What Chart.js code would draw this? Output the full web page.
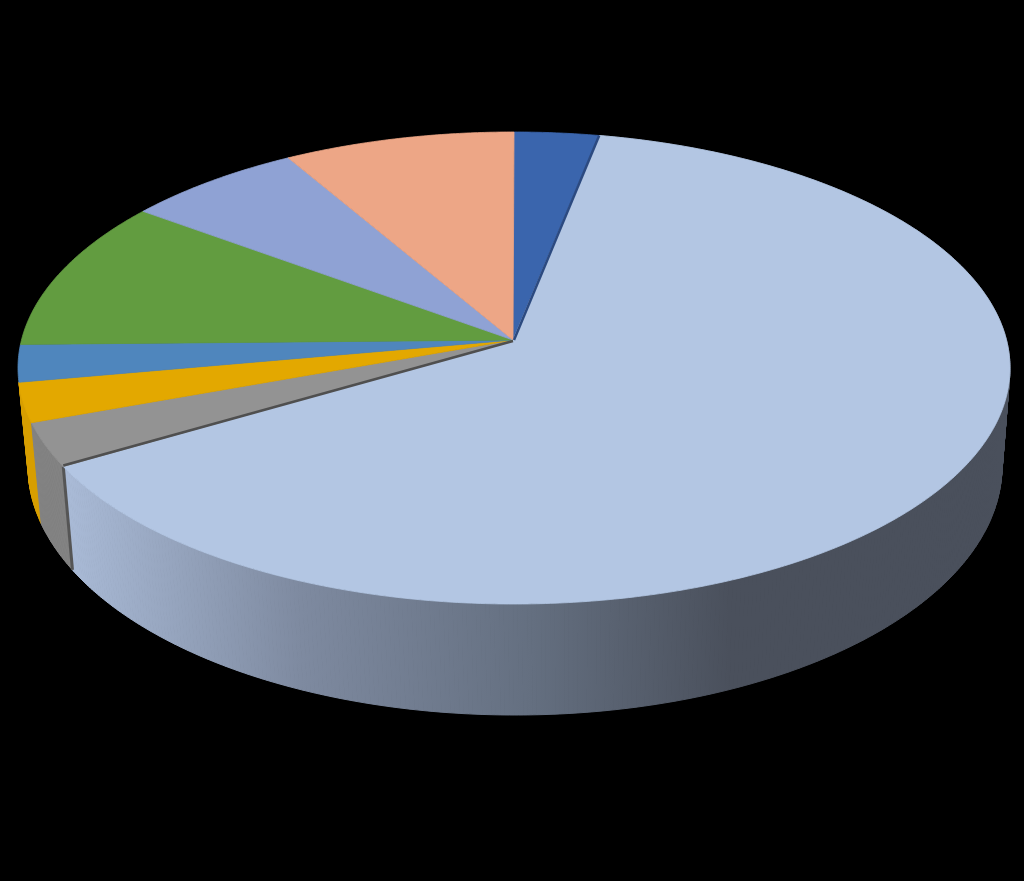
<!DOCTYPE html>
<html>
<head>
<meta charset="utf-8">
<title>3D pie</title>
<script src="https://cdn.jsdelivr.net/npm/chart.js@4"></script>
<style>
  html, body { margin: 0; padding: 0; background: #000; }
  canvas { display: block; }
</style>
</head>
<body>
<canvas id="pie" width="1024" height="881"></canvas>
<script>
// values (percent of the pie)
let categories = ["A", "B", "C", "D", "E", "F", "G", "H"];
let values = [3.1, 63.5, 3.0, 2.7, 2.55, 10.4, 6.5, 8.45];

let topColors = ["#3a65ad", "#b3c6e3", "#939393", "#e3a800", "#4f86bd", "#629c40", "#8fa2d4", "#eda686"];
let wallColors = [null, "gradient", "#838383", "#d89f00", null, null, null, null];

// perspective of the pie: top face and the smaller bottom rim
let topRim = { cx: 514, cy: 368, a: 496, b: 236 };
let bottomRim = { cx: 515, cy: 466, a: 487, b: 249 };
let apex = { x: 513, y: 340 };
let tilt = (apex.y - topRim.cy) / topRim.b;

function project(rim, angle) {
  // chart.js angle starts at 3 o'clock and goes clockwise
  let u = Math.cos(angle), v = Math.sin(angle);
  let d = 1 + tilt * v;
  return {
    x: rim.cx + rim.a * u * Math.sqrt(1 - tilt * tilt) / d,
    y: rim.cy + rim.b * (v + tilt) / d
  };
}

function rimPath(ctx, rim, from, to) {
  let n = Math.max(2, Math.ceil(Math.abs(to - from) * 120));
  for (let i = 0; i <= n; i++) {
    let p = project(rim, from + (to - from) * i / n);
    ctx.lineTo(p.x, p.y);
  }
}

// the wall goes in small strips so the silhouette keeps its straight side
function drawWall(ctx, from, to, fill) {
  let n = Math.ceil((to - from) * 120);
  ctx.fillStyle = fill;
  ctx.strokeStyle = fill;
  ctx.lineWidth = 1;
  for (let i = 0; i < n; i++) {
    let a0 = from + (to - from) * i / n;
    let a1 = from + (to - from) * (i + 1) / n;
    let p0 = project(topRim, a0), p1 = project(topRim, a1);
    let q0 = project(bottomRim, a0), q1 = project(bottomRim, a1);
    ctx.beginPath();
    ctx.moveTo(p0.x, p0.y);
    ctx.lineTo(p1.x, p1.y);
    ctx.lineTo(q1.x, q1.y);
    ctx.lineTo(q0.x, q0.y);
    ctx.closePath();
    ctx.fill();
    ctx.stroke();
  }
}

let pie3d = {
  id: "pie3d",
  beforeDatasetsDraw(chart) {
    let ctx = chart.ctx;
    let arcs = chart.getDatasetMeta(0).data;
    ctx.save();

    // side wall, left slices first
    [3, 2, 1].forEach(i => {
      let arc = arcs[i];
      let fill = wallColors[i];
      if (fill === "gradient") {
        fill = ctx.createLinearGradient(70, 0, 730, 0);
        fill.addColorStop(0, "#a9bad6");
        fill.addColorStop(0.35, "#7e8aa0");
        fill.addColorStop(0.7, "#646f80");
        fill.addColorStop(1, "#4a505c");
      }
      drawWall(ctx, arc.startAngle, arc.endAngle, fill);
    });

    // dark edge where the large slice wall starts
    let big = arcs[1];
    let a = project(topRim, big.endAngle), b = project(bottomRim, big.endAngle);
    ctx.beginPath();
    ctx.moveTo(a.x, a.y);
    ctx.lineTo(b.x, b.y);
    ctx.strokeStyle = "#555555";
    ctx.lineWidth = 3;
    ctx.stroke();

    // top face
    arcs.forEach(arc => {
      ctx.beginPath();
      ctx.moveTo(apex.x, apex.y);
      rimPath(ctx, topRim, arc.startAngle, arc.endAngle);
      ctx.closePath();
      ctx.fillStyle = arc.options.backgroundColor;
      ctx.strokeStyle = arc.options.backgroundColor;
      ctx.lineWidth = 0.8;
      ctx.fill();
      ctx.stroke();
    });

    // thin dark faces along the big slice
    let e = project(topRim, big.endAngle);
    ctx.beginPath();
    ctx.moveTo(apex.x, apex.y + 1);
    ctx.lineTo(e.x, e.y - 1);
    ctx.strokeStyle = "#4f4f4f";
    ctx.lineWidth = 2.5;
    ctx.stroke();

    let s = project(topRim, big.startAngle);
    ctx.beginPath();
    ctx.moveTo(apex.x + 1, apex.y);
    ctx.lineTo(s.x, s.y);
    ctx.strokeStyle = "#2c4a80";
    ctx.lineWidth = 2.5;
    ctx.stroke();

    ctx.restore();
    return false;
  }
};

new Chart(document.getElementById("pie"), {
  type: "pie",
  data: {
    labels: categories,
    datasets: [{ data: values, backgroundColor: topColors, borderWidth: 0 }]
  },
  options: {
    responsive: false,
    animation: false,
    plugins: { legend: { display: false }, tooltip: { enabled: false } }
  },
  plugins: [pie3d]
});
</script>
</body>
</html>
